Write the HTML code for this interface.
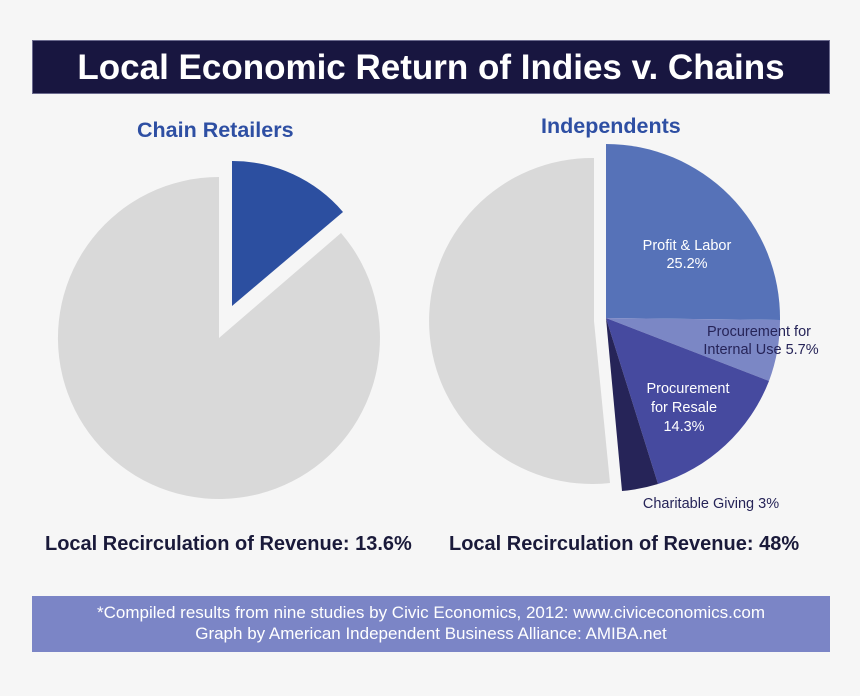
<!DOCTYPE html>
<html><head><style>
body{margin:0;width:860px;height:696px;background:#f6f6f6;font-family:"Liberation Sans",sans-serif;overflow:hidden;position:relative}
.banner{position:absolute;left:32px;top:40px;width:798px;height:54px;background:#181640;border:1px solid #6b6a8e;box-sizing:border-box;color:#fff;font-weight:bold;font-size:35px;text-align:center;line-height:54px}
.foot{position:absolute;left:32px;top:596px;width:798px;height:56px;background:#7b85c6;color:#fff;font-size:17px;text-align:center;line-height:21px;padding-top:6px;box-sizing:border-box}
.t{position:absolute;font-weight:bold;color:#2e4fa3;font-size:21.5px}
.b{position:absolute;font-weight:bold;color:#1a1a3a;font-size:20px;top:533px}
</style></head><body>
<div class="banner">Local Economic Return of Indies v. Chains</div>
<div class="t" style="left:137px;top:118px">Chain Retailers</div>
<div class="t" style="left:541px;top:114px">Independents</div>
<svg width="860" height="696" style="position:absolute;left:0;top:0">
<path d="M219,338 L219,177 A161,161 0 1 0 341,233 Z" fill="#d9d9d9"/>
<path d="M232,306 L232,161 A145,145 0 0 1 343,212 Z" fill="#2c4fa0"/>
<path d="M594,321 L610,483 A163,163 0 1 1 594,158 Z" fill="#d9d9d9"/>
<path d="M606,318 L606,144 A174,174 0 0 1 780,320 Z" fill="#5672b8"/>
<path d="M606,318 L780,320 A174,174 0 0 1 769,381 Z" fill="#7b87c5"/>
<path d="M606,318 L769,381 A174,174 0 0 1 658,484 Z" fill="#464a9f"/>
<path d="M606,318 L658,484 A174,174 0 0 1 622,491 Z" fill="#262458"/>
<g font-family="Liberation Sans,sans-serif" font-size="14.5" text-anchor="middle">
<text x="687" y="250" fill="#fff">Profit &amp; Labor</text>
<text x="687" y="268" fill="#fff">25.2%</text>
<text x="759" y="336" fill="#262458">Procurement for</text>
<text x="761" y="354" fill="#262458">Internal Use 5.7%</text>
<text x="688" y="393" fill="#fff">Procurement</text>
<text x="684" y="412" fill="#fff">for Resale</text>
<text x="684" y="431" fill="#fff">14.3%</text>
<text x="711" y="508" fill="#262458">Charitable Giving 3%</text>
</g>
</svg>
<div class="b" style="left:45px">Local Recirculation of Revenue: 13.6%</div>
<div class="b" style="left:449px">Local Recirculation of Revenue: 48%</div>
<div class="foot">*Compiled results from nine studies by Civic Economics, 2012: www.civiceconomics.com<br>Graph by American Independent Business Alliance: AMIBA.net</div>
</body></html>
